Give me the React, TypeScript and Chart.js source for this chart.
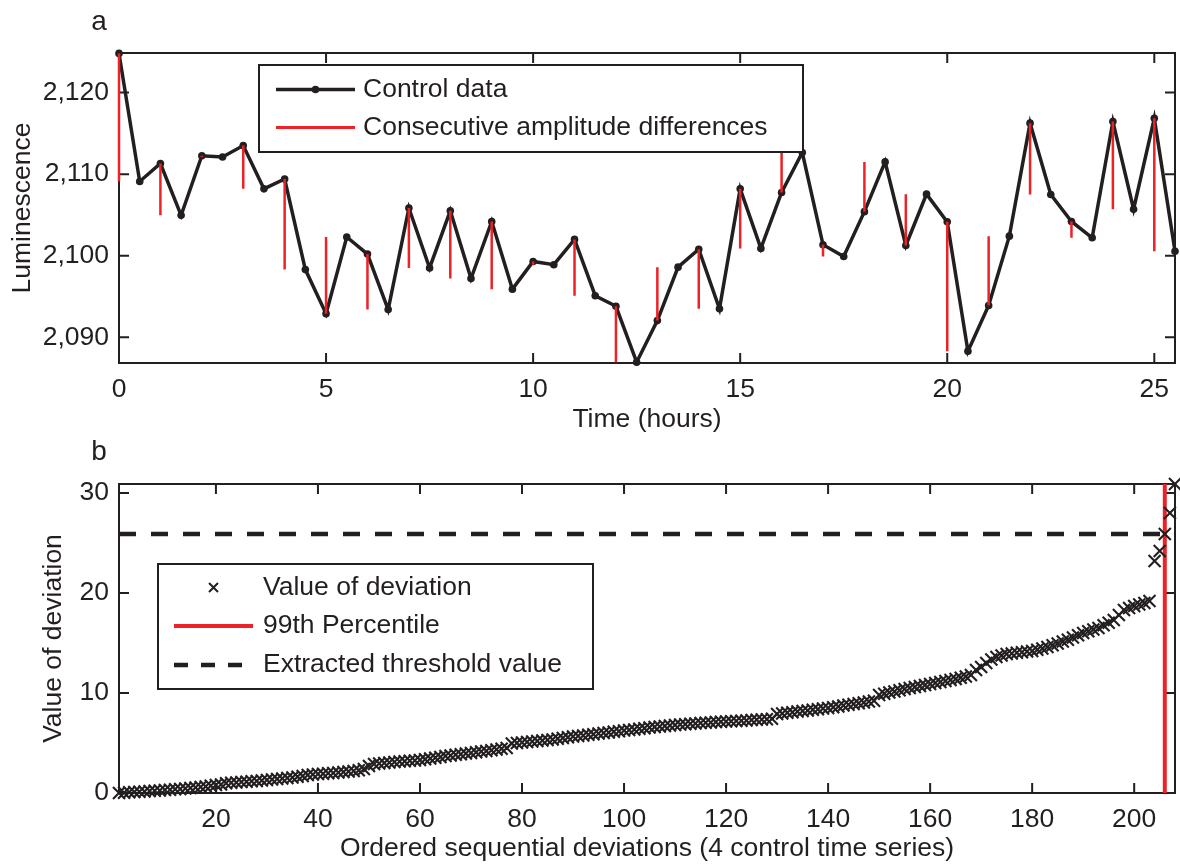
import React, { useEffect, useRef } from 'react';
import { Chart, registerables } from 'chart.js';

Chart.register(...registerables);

// ---------- Panel a data ----------
const timeHours = [
  0, 0.5, 1, 1.5, 2, 2.5, 3, 3.5, 4, 4.5, 5, 5.5, 6, 6.5, 7, 7.5, 8, 8.5, 9, 9.5,
  10, 10.5, 11, 11.5, 12, 12.5, 13, 13.5, 14, 14.5, 15, 15.5, 16, 16.5, 17, 17.5,
  18, 18.5, 19, 19.5, 20, 20.5, 21, 21.5, 22, 22.5, 23, 23.5, 24, 24.5, 25, 25.5,
];
const luminescence = [
  2124.8, 2109.1, 2111.3, 2104.95, 2112.25, 2112.1, 2113.5, 2108.2, 2109.4, 2098.3,
  2092.9, 2102.3, 2100.2, 2093.4, 2105.85, 2098.5, 2105.5, 2097.2, 2104.2, 2095.9,
  2099.3, 2098.9, 2102.0, 2095.1, 2093.8, 2086.95, 2092.05, 2098.6, 2100.8, 2093.5,
  2108.2, 2100.9, 2107.75, 2112.65, 2101.35, 2099.9, 2105.4, 2111.5, 2101.25, 2107.55,
  2104.15, 2088.3, 2093.9, 2102.4, 2116.25, 2107.5, 2104.2, 2102.2, 2116.45, 2105.7,
  2116.85, 2100.55,
];
const diffHours = [
  0, 1, 2, 3, 4, 5, 6, 7, 8, 9, 10, 11, 12, 13, 14, 15, 16, 17, 18, 19, 20, 21, 22, 23, 24, 25,
];
const xTicksA = [0, 5, 10, 15, 20, 25];
const yTicksA = [2090, 2100, 2110, 2120];

// ---------- Panel b data ----------
const deviations = [
  0, 0.03, 0.07, 0.1, 0.12, 0.15, 0.19, 0.22, 0.25, 0.3,
  0.33, 0.37, 0.41, 0.45, 0.5, 0.55, 0.6, 0.66, 0.72, 0.8,
  0.85, 0.98, 1.02, 1.05, 1.1, 1.13, 1.17, 1.2, 1.25, 1.3,
  1.35, 1.4, 1.45, 1.5, 1.55, 1.62, 1.7, 1.8, 1.84, 1.9,
  1.93, 1.97, 2.0, 2.05, 2.1, 2.15, 2.2, 2.28, 2.4, 2.7,
  2.9, 2.95, 3.0, 3.05, 3.1, 3.14, 3.18, 3.22, 3.26, 3.3,
  3.38, 3.45, 3.52, 3.6, 3.7, 3.76, 3.82, 3.88, 3.94, 4.0,
  4.07, 4.14, 4.21, 4.28, 4.35, 4.42, 4.5, 4.95, 5.0, 5.05,
  5.1, 5.15, 5.2, 5.25, 5.3, 5.36, 5.42, 5.5, 5.58, 5.65,
  5.7, 5.76, 5.82, 5.88, 5.94, 6.0, 6.06, 6.12, 6.18, 6.25,
  6.3, 6.36, 6.42, 6.48, 6.54, 6.6, 6.65, 6.7, 6.75, 6.8,
  6.84, 6.88, 6.92, 6.96, 7.0, 7.03, 7.06, 7.09, 7.12, 7.15,
  7.18, 7.2, 7.23, 7.26, 7.29, 7.32, 7.35, 7.38, 7.42, 7.9,
  7.96, 8.02, 8.08, 8.14, 8.2, 8.26, 8.32, 8.38, 8.44, 8.5,
  8.58, 8.66, 8.74, 8.82, 8.9, 8.98, 9.06, 9.14, 9.22, 9.8,
  9.92, 10.04, 10.16, 10.28, 10.4, 10.5, 10.6, 10.7, 10.8, 10.9,
  11.0, 11.1, 11.2, 11.3, 11.4, 11.53, 11.66, 11.8, 12.3, 12.6,
  13.0, 13.35, 13.6, 13.75, 13.9, 13.96, 14.02, 14.08, 14.14, 14.2,
  14.33, 14.46, 14.6, 14.78, 14.96, 15.14, 15.32, 15.55, 15.78, 16.0,
  16.17, 16.34, 16.5, 16.77, 17.03, 17.3, 17.8, 18.3, 18.5, 18.7,
  18.85, 19.0, 19.2, 23.2, 24.2, 25.9, 28.0, 30.9,
];
const deviationIndex = deviations.map((_, i) => i + 1);
const percentile99 = 206;
const thresholdValue = 25.9;
const xTicksB = [20, 40, 60, 80, 100, 120, 140, 160, 180, 200];
const yTicksB = [0, 10, 20, 30];

// ---------- styles ----------
const FONT = '"Liberation Sans", Arial, Helvetica, sans-serif';
const INK = '#231f20';
const RED = '#ec2227';
const FS = 26.5;

function frameTicksPlugin(xt: number[], yt: number[]) {
  return {
    id: 'frameTicks',
    beforeDatasetsDraw(chart: any) {
      const { ctx, chartArea: a, scales } = chart;
      ctx.save();
      ctx.strokeStyle = INK;
      ctx.lineWidth = 2;
      ctx.beginPath();
      xt.forEach((v) => {
        const p = scales.x.getPixelForValue(v);
        ctx.moveTo(p, a.bottom);
        ctx.lineTo(p, a.bottom - 10);
        ctx.moveTo(p, a.top);
        ctx.lineTo(p, a.top + 10);
      });
      yt.forEach((v) => {
        const p = scales.y.getPixelForValue(v);
        ctx.moveTo(a.left, p);
        ctx.lineTo(a.left + 10, p);
        ctx.moveTo(a.right, p);
        ctx.lineTo(a.right - 10, p);
      });
      ctx.stroke();
      ctx.strokeRect(a.left, a.top, a.right - a.left, a.bottom - a.top);
      ctx.restore();
    },
  };
}

function panelLetterPlugin(letter: string, x: number, y: number) {
  return {
    id: 'panelLetter',
    afterDraw(chart: any) {
      const ctx = chart.ctx;
      ctx.save();
      ctx.fillStyle = INK;
      ctx.font = `28px ${FONT}`;
      ctx.textAlign = 'center';
      ctx.textBaseline = 'middle';
      ctx.fillText(letter, x, y);
      ctx.restore();
    },
  };
}

type LegendItem = { label: string; draw: (ctx: CanvasRenderingContext2D, x0: number, x1: number, y: number) => void };

function legendPlugin(box: { l: number; t: number; r: number; b: number }, rows: number[], sx0: number, sx1: number, tx: number, items: LegendItem[]) {
  return {
    id: 'boxLegend',
    afterDraw(chart: any) {
      const ctx = chart.ctx as CanvasRenderingContext2D;
      ctx.save();
      ctx.fillStyle = '#ffffff';
      ctx.fillRect(box.l, box.t, box.r - box.l, box.b - box.t);
      ctx.strokeStyle = INK;
      ctx.lineWidth = 2;
      ctx.strokeRect(box.l, box.t, box.r - box.l, box.b - box.t);
      items.forEach((it, i) => {
        const y = rows[i];
        it.draw(ctx, sx0, sx1, y);
        ctx.fillStyle = INK;
        ctx.font = `${FS}px ${FONT}`;
        ctx.textAlign = 'left';
        ctx.textBaseline = 'middle';
        ctx.fillText(it.label, tx, y);
      });
      ctx.restore();
    },
  };
}

const tickFont = { size: FS, family: FONT };

const fitX = (h: number) => (s: any) => {
  s.height = h;
  s.paddingLeft = 0;
  s.paddingRight = 0;
  s.paddingTop = 0;
  s.paddingBottom = 0;
};
const fitY = (w: number) => (s: any) => {
  s.width = w;
  s.paddingLeft = 0;
  s.paddingRight = 0;
  s.paddingTop = 0;
  s.paddingBottom = 0;
};

export default function App() {
  const refA = useRef<HTMLCanvasElement>(null);
  const refB = useRef<HTMLCanvasElement>(null);

  useEffect(() => {
    if (!refA.current) return;
    const lumData = timeHours.map((t, i) => ({ x: t, y: luminescence[i] }));
    const diffData: any[] = [];
    diffHours.forEach((h) => {
      const i = timeHours.indexOf(h);
      diffData.push({ x: h, y: luminescence[i] });
      diffData.push({ x: h, y: luminescence[i + 1] });
      diffData.push({ x: h, y: null });
    });
    const chart = new Chart(refA.current, {
      type: 'scatter',
      data: {
        datasets: [
          {
            label: 'Consecutive amplitude differences',
            data: diffData,
            showLine: true,
            spanGaps: false,
            borderColor: RED,
            borderWidth: 2.5,
            pointRadius: 0,
            clip: false as any,
          },
          {
            label: 'Control data',
            data: lumData,
            showLine: true,
            borderColor: INK,
            backgroundColor: INK,
            borderWidth: 3.5,
            pointRadius: 3.8,
            pointBorderWidth: 0,
            pointBackgroundColor: INK,
            tension: 0,
            clip: false as any,
          },
        ],
      },
      options: {
        responsive: false,
        animation: false,
        events: [],
        layout: { autoPadding: false, padding: { left: 0, right: 5, top: 53, bottom: 0 } },
        plugins: { legend: { display: false }, tooltip: { enabled: false } },
        scales: {
          x: {
            type: 'linear',
            min: 0,
            max: 25.5,
            grid: { display: false, drawTicks: false },
            border: { display: false },
            afterBuildTicks: (s: any) => { s.ticks = xTicksA.map((v) => ({ value: v })); },
            afterFit: fitX(82),
            ticks: { font: tickFont, color: INK, padding: 11, maxRotation: 0, autoSkip: false, callback: (v: any) => String(v) },
            title: { display: true, text: 'Time (hours)', font: tickFont, color: INK, padding: { top: 0, bottom: 9 } },
          },
          y: {
            type: 'linear',
            min: 2086.85,
            max: 2124.85,
            grid: { display: false, drawTicks: false },
            border: { display: false },
            afterBuildTicks: (s: any) => { s.ticks = yTicksA.map((v) => ({ value: v })); },
            afterFit: fitY(119),
            ticks: { font: tickFont, color: INK, padding: 10, autoSkip: false, callback: (v: any) => Number(v).toLocaleString('en-US') },
            title: { display: true, text: 'Luminescence', font: tickFont, color: INK, padding: { top: 7, bottom: 0 } },
          },
        },
      },
      plugins: [
        frameTicksPlugin(xTicksA, yTicksA),
        legendPlugin({ l: 259, t: 65, r: 803, b: 152 }, [89.5, 127.5], 276, 355, 363, [
          {
            label: 'Control data',
            draw: (ctx, x0, x1, y) => {
              ctx.strokeStyle = INK; ctx.lineWidth = 3.5; ctx.setLineDash([]);
              ctx.beginPath(); ctx.moveTo(x0, y); ctx.lineTo(x1, y); ctx.stroke();
              ctx.fillStyle = INK; ctx.beginPath(); ctx.arc((x0 + x1) / 2, y, 3.8, 0, Math.PI * 2); ctx.fill();
            },
          },
          {
            label: 'Consecutive amplitude differences',
            draw: (ctx, x0, x1, y) => {
              ctx.strokeStyle = RED; ctx.lineWidth = 3; ctx.setLineDash([]);
              ctx.beginPath(); ctx.moveTo(x0, y); ctx.lineTo(x1, y); ctx.stroke();
            },
          },
        ]),
        panelLetterPlugin('a', 99, 22),
      ],
    } as any);
    return () => chart.destroy();
  }, []);

  useEffect(() => {
    if (!refB.current) return;
    const devData = deviationIndex.map((x, i) => ({ x, y: deviations[i] }));
    const xMin = deviationIndex[0];
    const xMax = deviationIndex[deviationIndex.length - 1];
    const yMax = Math.max(...deviations);
    const chart = new Chart(refB.current, {
      type: 'scatter',
      data: {
        datasets: [
          {
            label: 'Value of deviation',
            data: devData,
            showLine: false,
            pointStyle: 'crossRot',
            pointRadius: 8.5,
            borderColor: INK,
            pointBorderColor: INK,
            pointBorderWidth: 2.1,
            clip: false as any,
          },
          {
            label: '99th Percentile',
            data: [{ x: percentile99, y: 0 }, { x: percentile99, y: yMax }],
            showLine: true,
            borderColor: RED,
            borderWidth: 4,
            pointRadius: 0,
          },
          {
            label: 'Extracted threshold value',
            data: [{ x: xMin, y: thresholdValue }, { x: percentile99, y: thresholdValue }],
            showLine: true,
            borderColor: INK,
            borderWidth: 4.5,
            borderDash: [17, 15],
            pointRadius: 0,
          },
        ],
      },
      options: {
        responsive: false,
        animation: false,
        events: [],
        layout: { autoPadding: false, padding: { left: 0, right: 5, top: 54, bottom: 0 } },
        plugins: { legend: { display: false }, tooltip: { enabled: false } },
        scales: {
          x: {
            type: 'linear',
            min: xMin,
            max: xMax,
            grid: { display: false, drawTicks: false },
            border: { display: false },
            afterBuildTicks: (s: any) => { s.ticks = xTicksB.map((v) => ({ value: v })); },
            afterFit: fitX(72),
            ticks: { font: tickFont, color: INK, padding: 11, maxRotation: 0, autoSkip: false, callback: (v: any) => String(v) },
            title: { display: true, text: 'Ordered sequential deviations (4 control time series)', font: tickFont, color: INK, padding: { top: 0, bottom: 0 } },
          },
          y: {
            type: 'linear',
            min: 0,
            max: yMax,
            grid: { display: false, drawTicks: false },
            border: { display: false },
            afterBuildTicks: (s: any) => { s.ticks = yTicksB.map((v) => ({ value: v })); },
            afterFit: fitY(119),
            ticks: { font: tickFont, color: INK, padding: 10, autoSkip: false, callback: (v: any) => String(v) },
            title: { display: true, text: 'Value of deviation', font: tickFont, color: INK, padding: { top: 38, bottom: 0 } },
          },
        },
      },
      plugins: [
        frameTicksPlugin(xTicksB, yTicksB),
        legendPlugin({ l: 158, t: 134, r: 593, b: 259 }, [157.5, 196, 235], 174, 253, 263, [
          {
            label: 'Value of deviation',
            draw: (ctx, x0, x1, y) => {
              const cx = (x0 + x1) / 2;
              ctx.strokeStyle = INK; ctx.lineWidth = 2; ctx.setLineDash([]);
              ctx.beginPath();
              ctx.moveTo(cx - 4.5, y - 4.5); ctx.lineTo(cx + 4.5, y + 4.5);
              ctx.moveTo(cx - 4.5, y + 4.5); ctx.lineTo(cx + 4.5, y - 4.5);
              ctx.stroke();
            },
          },
          {
            label: '99th Percentile',
            draw: (ctx, x0, x1, y) => {
              ctx.strokeStyle = RED; ctx.lineWidth = 4; ctx.setLineDash([]);
              ctx.beginPath(); ctx.moveTo(x0, y); ctx.lineTo(x1, y); ctx.stroke();
            },
          },
          {
            label: 'Extracted threshold value',
            draw: (ctx, x0, x1, y) => {
              ctx.strokeStyle = INK; ctx.lineWidth = 4.5; ctx.setLineDash([14, 13]);
              ctx.beginPath(); ctx.moveTo(x0, y); ctx.lineTo(x1, y); ctx.stroke();
              ctx.setLineDash([]);
            },
          },
        ]),
        panelLetterPlugin('b', 99, 22),
      ],
    } as any);
    return () => chart.destroy();
  }, []);

  return (
    <div style={{ position: 'absolute', left: 0, top: 0, width: 1180, height: 865, background: '#ffffff', overflow: 'hidden' }}>
      <canvas ref={refA} width={1180} height={445} style={{ position: 'absolute', left: 0, top: 0, width: 1180, height: 445 }} />
      <canvas ref={refB} width={1180} height={435} style={{ position: 'absolute', left: 0, top: 430, width: 1180, height: 435 }} />
    </div>
  );
}
